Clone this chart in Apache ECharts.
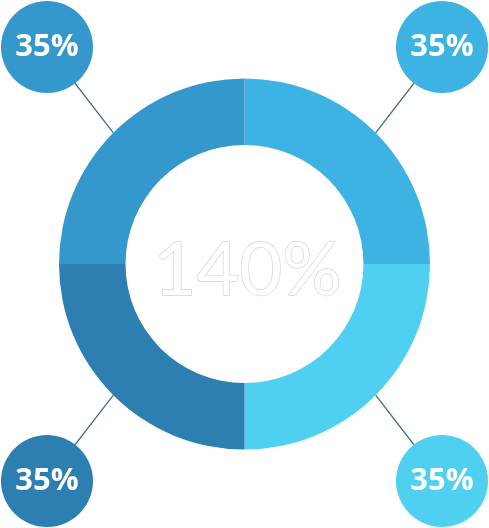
<!DOCTYPE html>
<html>
<head>
<meta charset="utf-8">
<script src="https://cdn.jsdelivr.net/npm/echarts@6/dist/echarts.min.js"></script>
<style>html,body{margin:0;padding:0;background:#fff;}#c{width:489px;height:528px;}</style>
</head>
<body>
<div id="c"></div>
<script>
var categories = ['A', 'B', 'C', 'D'];
var values = [35, 35, 35, 35];
var labels = ['35%', '35%', '35%', '35%'];
var totalLabel = '140%';
var colors = ['#3db3e3', '#4fd0f0', '#2c7fb0', '#3498cc'];
// label circle centres (corners)
var labelPos = [[442, 47], [442, 481], [47, 481], [47, 47]];

var cx = 244.5, cy = 264, rOut = 185.5, rIn = 119;

var chart = echarts.init(document.getElementById('c'), null, {renderer: 'canvas'});
var data = categories.map(function (c, i) {
  return {
    name: c, value: values[i],
    itemStyle: {color: colors[i]},
    label: {backgroundColor: colors[i]}
  };
});
chart.setOption({
  animation: false,
  title: {
    text: totalLabel,
    left: cx - 2, top: cy + 2,
    textAlign: 'center', textVerticalAlign: 'middle',
    textStyle: {
      fontFamily: 'Lato', fontWeight: 400, fontSize: 74,
      color: '#ffffff', textBorderColor: '#cdd5d9', textBorderWidth: 1.4
    }
  },
  series: [{
    type: 'pie',
    center: [cx, cy],
    radius: [rIn, rOut],
    startAngle: 90,
    clockwise: true,
    silent: true,
    data: data,
    label: {
      show: true,
      position: 'outside',
      formatter: function (p) { return labels[p.dataIndex]; },
      color: '#ffffff',
      fontFamily: 'Open Sans',
      fontWeight: 'bold',
      fontSize: 31,
      width: 92, height: 92, lineHeight: 92,
      borderRadius: 46,
      align: 'center',
      verticalAlign: 'middle'
    },
    labelLine: {
      show: true,
      lineStyle: {color: '#3d6f88', width: 1.3}
    },
    labelLayout: function (p) {
      var i = p.dataIndex;
      var pos = labelPos[i];
      var mid = (90 - 45 - 90 * i) * Math.PI / 180;
      var sx = cx + rOut * Math.cos(mid);
      var sy = cy - rOut * Math.sin(mid);
      return {
        x: pos[0], y: pos[1],
        align: 'center', verticalAlign: 'middle',
        labelLinePoints: [[sx, sy], [pos[0], pos[1]], [pos[0], pos[1]]]
      };
    }
  }]
});
</script>
</body>
</html>
